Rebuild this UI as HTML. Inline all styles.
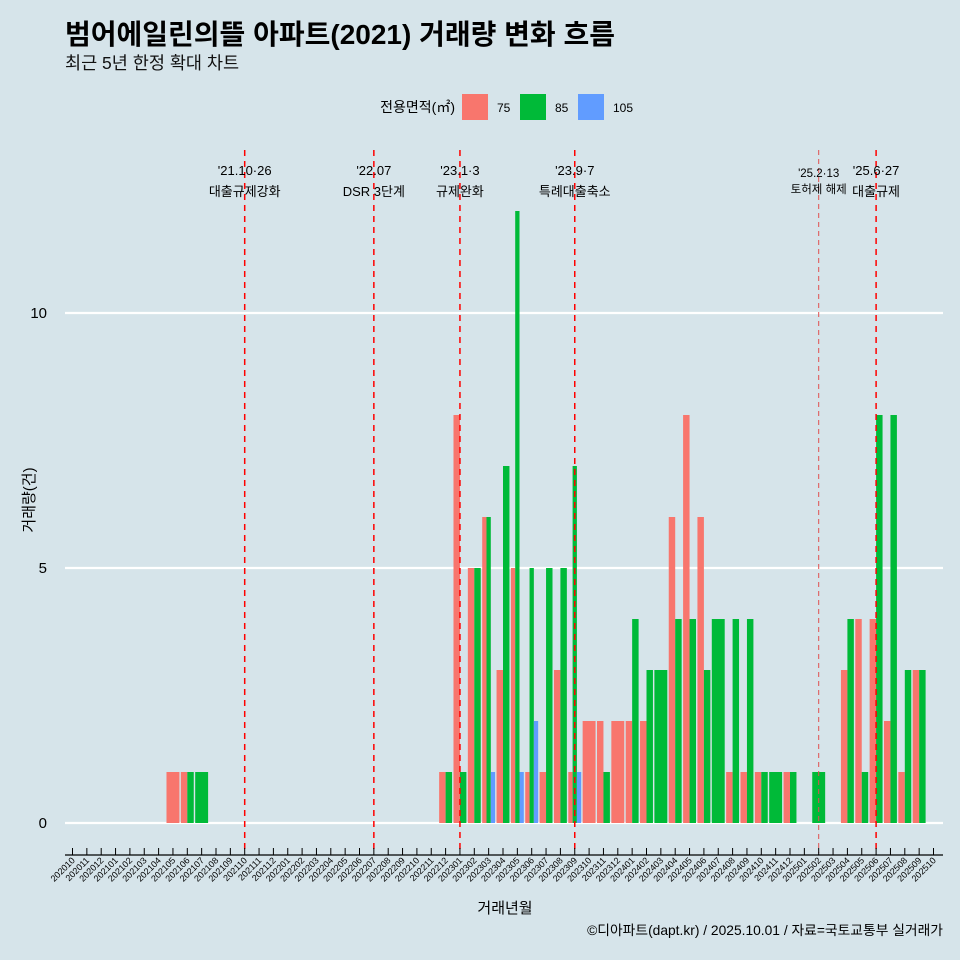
<!DOCTYPE html>
<html><head><meta charset="utf-8">
<style>
html,body{margin:0;padding:0;background:#d6e4ea;}
svg{display:block;font-family:"Liberation Sans","Noto Sans CJK KR",sans-serif;}
</style></head>
<body>
<svg id="chart" width="960" height="960" viewBox="0 0 960 960">
<rect width="960" height="960" fill="#d6e4ea"/>
<text x="65" y="44" font-size="28" font-weight="bold" fill="#000">범어에일린의뜰 아파트(2021) 거래량 변화 흐름</text>
<text x="65" y="69" font-size="17.5" fill="#111">최근 5년 한정 확대 차트</text>
<g>
<text x="455" y="112" font-size="14" text-anchor="end">전용면적(㎡)</text>
<rect x="462" y="94" width="26" height="26" fill="#f8766d"/>
<text x="497" y="112" font-size="12">75</text>
<rect x="520" y="94" width="26" height="26" fill="#00ba38"/>
<text x="555" y="112" font-size="12">85</text>
<rect x="578" y="94" width="26" height="26" fill="#619cff"/>
<text x="613" y="112" font-size="12">105</text>
</g>
<g id="grid"></g><g id="bars"></g><g id="events"></g><g id="axis"></g>
<text transform="translate(34,500) rotate(-90)" font-size="15" text-anchor="middle">거래량(건)</text>
<text x="505" y="913" font-size="15" text-anchor="middle">거래년월</text>
<text x="943" y="935" font-size="13.8" text-anchor="end">©디아파트(dapt.kr) / 2025.10.01 / 자료=국토교통부 실거래가</text>
</svg>
<script>
const months = ["202010","202011","202012","202101","202102","202103","202104","202105","202106","202107","202108","202109","202110","202111","202112","202201","202202","202203","202204","202205","202206","202207","202208","202209","202210","202211","202212","202301","202302","202303","202304","202305","202306","202307","202308","202309","202310","202311","202312","202401","202402","202403","202404","202405","202406","202407","202408","202409","202410","202411","202412","202501","202502","202503","202504","202505","202506","202507","202508","202509","202510"];
const s75 = [0,0,0,0,0,0,0,1,1,0,0,0,0,0,0,0,0,0,0,0,0,0,0,0,0,0,1,8,5,6,3,5,1,1,3,1,2,2,2,2,2,0,6,8,6,0,1,1,1,0,1,0,0,0,3,4,4,2,1,3,0];
const s85 = [0,0,0,0,0,0,0,0,1,1,0,0,0,0,0,0,0,0,0,0,0,0,0,0,0,0,1,1,5,6,7,12,5,5,5,7,0,1,0,4,3,3,4,4,3,4,4,4,1,1,1,0,1,0,4,1,8,8,3,3,0];
const s105 = [0,0,0,0,0,0,0,0,0,0,0,0,0,0,0,0,0,0,0,0,0,0,0,0,0,0,0,0,0,1,0,1,2,0,0,1,0,0,0,0,0,0,0,0,0,0,0,0,0,0,0,0,0,0,0,0,0,0,0,0,0];
const yTicks = [0,5,10];
const eventMonths = ["202110","202207","202301","202309","202502","202506"];
const eventDates = ["'21.10·26","'22.07","'23.1·3","'23.9·7","'25.2·13","'25.6·27"];
const eventLabels = ["대출규제강화","DSR 3단계","규제완화","특례대출축소","토허제 해제","대출규제"];
const eventMinor = [false,false,false,false,true,false];

const NS="http://www.w3.org/2000/svg";
const X0=72.5, STEP=14.35, Y0=823, YU=51, L=65, R=943;
const xs=i=>X0+i*STEP, ys=v=>Y0-v*YU;
function mk(tag,attrs,parent){const e=document.createElementNS(NS,tag);for(const k in attrs)e.setAttribute(k,attrs[k]);parent.appendChild(e);return e;}
const grid=document.getElementById('grid'),bars=document.getElementById('bars'),ev=document.getElementById('events'),ax=document.getElementById('axis');
yTicks.forEach(t=>{
  const g=mk('line',{x1:L,x2:R,y1:ys(t),y2:ys(t),stroke:'#fff','stroke-width':2.2},grid);
  
  
  const tx=mk('text',{x:47,y:ys(t)+5,'font-size':15,'text-anchor':'end'},grid);
  tx.textContent=t;
  
  
});
const series=[[s75,'#f8766d','75'],[s85,'#00ba38','85'],[s105,'#619cff','105']];
months.forEach((m,i)=>{
  const present=series.filter(s=>s[0][i]>0);
  const n=present.length; if(!n) return;
  const w=STEP*0.9/n; let x=xs(i)-STEP*0.45;
  present.forEach(s=>{
    const v=s[0][i];
    const r=mk('rect',{x:x,y:ys(v),width:w,height:v*YU,fill:s[1]},bars);
    
    
    x+=w;
  });
});
eventMonths.forEach((m,k)=>{
  const i=months.indexOf(m); const x=xs(i);
  const ln=mk('line',{x1:x,x2:x,y1:150,y2:853,stroke:eventMinor[k]?'#e05050':'#ff0000','stroke-width':eventMinor[k]?1:1.5,'stroke-dasharray':eventMinor[k]?'5,4':'6,5'},ev);
  
  
  const fs=eventMinor[k]?11.5:13;
  const t1=mk('text',{x:x,y:eventMinor[k]?177:175,'font-size':fs,'text-anchor':'middle'},ev);
  t1.textContent=eventDates[k];
  
  
  const t2=mk('text',{x:x,y:eventMinor[k]?193:196,'font-size':fs,'text-anchor':'middle'},ev);
  t2.textContent=eventLabels[k];
  
  
});
const al=mk('line',{x1:L,x2:R,y1:855,y2:855,stroke:'#000','stroke-width':1.2},ax);


months.forEach((m,i)=>{
  const x=xs(i);
  const tk=mk('line',{x1:x,x2:x,y1:848,y2:855,stroke:'#000','stroke-width':1},ax);
  
  
  const t=mk('text',{transform:`translate(${x+3},${861}) rotate(-45)`,'font-size':9,'text-anchor':'end'},ax);
  t.textContent=m;
  
  
});
</script>
</body></html>
